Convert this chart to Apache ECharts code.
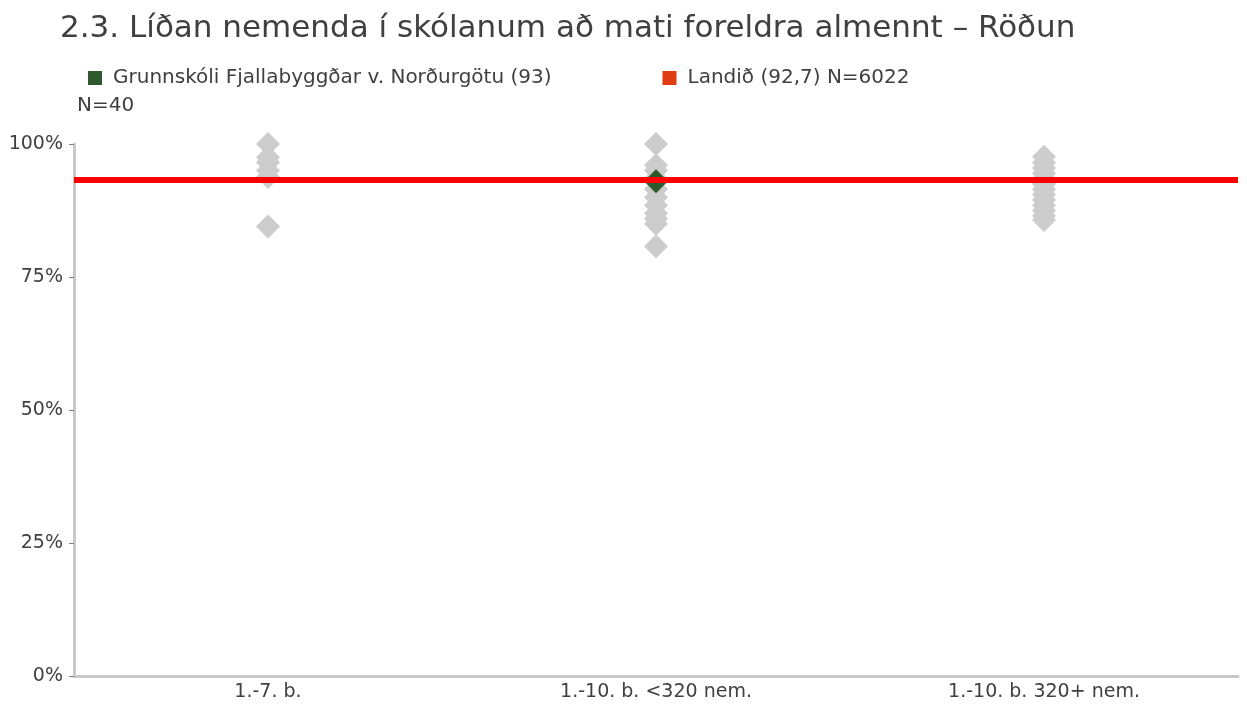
<!DOCTYPE html>
<html>
<head>
<meta charset="utf-8">
<script src="https://cdn.jsdelivr.net/npm/echarts@6/dist/echarts.min.js"></script>
<style>
html,body{margin:0;padding:0;background:#fff;}
#main{width:1247px;height:704px;}
</style>
</head>
<body>
<div id="main"></div>
<script>
const titleText = '2.3. Líðan nemenda í skólanum að mati foreldra almennt – Röðun';
const nText = 'N=40';
const categories = ['1.-7. b.', '1.-10. b. <320 nem.', '1.-10. b. 320+ nem.'];
const yTicks = [0, 25, 50, 75, 100];
const schoolName = 'Grunnskóli Fjallabyggðar v. Norðurgötu (93)';
const nationName = 'Landið (92,7) N=6022';
// other schools, per category (percent)
const others1 = [100, 97.5, 96.5, 95, 93.8, 84.5];
const others2 = [100, 96, 95, 93.5, 91.5, 90, 88.5, 87, 86, 85, 80.8];
const others3 = [97.6, 96.5, 95.5, 94.5, 93.5, 92.5, 91.5, 90.5, 89.5, 88.5, 87.5, 86.5, 85.7];
const schoolCategory = 1;
const schoolValue = 93;
const nationValue = 93.2;

const othersData = [];
[others1, others2, others3].forEach((arr, i) => arr.forEach(v => othersData.push([i, v])));

const FONT = 'DejaVu Sans';
const chart = echarts.init(document.getElementById('main'), null, {renderer: 'canvas'});
chart.setOption({
  animation: false,
  backgroundColor: '#ffffff',
  textStyle: {fontFamily: FONT},
  title: {
    text: titleText,
    left: 55, top: 8,
    textStyle: {fontFamily: FONT, fontSize: 31, fontWeight: 'normal', color: '#404040'}
  },
  graphic: [{
    type: 'text', left: 77, top: 96,
    style: {text: nText, font: '20px "DejaVu Sans"', fill: '#404040'}
  }],
  legend: {
    left: 83, top: 63,
    itemWidth: 14, itemHeight: 14, itemGap: 111,
    icon: 'rect',
    textStyle: {fontFamily: FONT, fontSize: 20, color: '#404040', padding: [0, 0, 0, 6]},
    data: [
      {name: schoolName, itemStyle: {color: '#2e5a2e', opacity: 1}},
      {name: nationName, itemStyle: {color: '#e03c14', opacity: 1}}
    ]
  },
  grid: {left: 74, right: 9, top: 144, bottom: 28, containLabel: false},
  xAxis: {
    type: 'category',
    data: categories,
    axisLine: {lineStyle: {color: '#c8c8c8', width: 3}},
    axisTick: {show: false},
    axisLabel: {fontFamily: FONT, fontSize: 19, color: '#404040', margin: 7},
    splitLine: {show: false}
  },
  yAxis: {
    type: 'value', min: 0, max: 100, interval: 25,
    axisLine: {show: true, lineStyle: {color: '#c8c8c8', width: 3}},
    axisTick: {show: true, length: 5, lineStyle: {color: '#7f7f7f', width: 1}},
    axisLabel: {fontFamily: FONT, fontSize: 19, color: '#404040', margin: 11,
      formatter: v => yTicks.includes(v) ? v + '%' : ''},
    splitLine: {show: false}
  },
  series: [
    {
      name: 'others', type: 'scatter', symbol: 'diamond', symbolSize: [24, 24],
      itemStyle: {color: '#cccccc', opacity: 1},
      data: othersData, z: 2, silent: true
    },
    {
      name: schoolName, type: 'scatter', symbol: 'diamond', symbolSize: [24, 24],
      itemStyle: {color: '#2e5a2e', opacity: 1},
      data: [[schoolCategory, schoolValue]], z: 3
    },
    {
      name: nationName, type: 'scatter', data: [], z: 4,
      itemStyle: {color: '#e03c14', opacity: 1},
      markLine: {
        silent: true, symbol: ['none', 'none'], label: {show: false},
        lineStyle: {color: '#ff0000', width: 6, type: 'solid', opacity: 1},
        data: [{yAxis: nationValue}], z: 5
      }
    }
  ]
});
</script>
</body>
</html>
